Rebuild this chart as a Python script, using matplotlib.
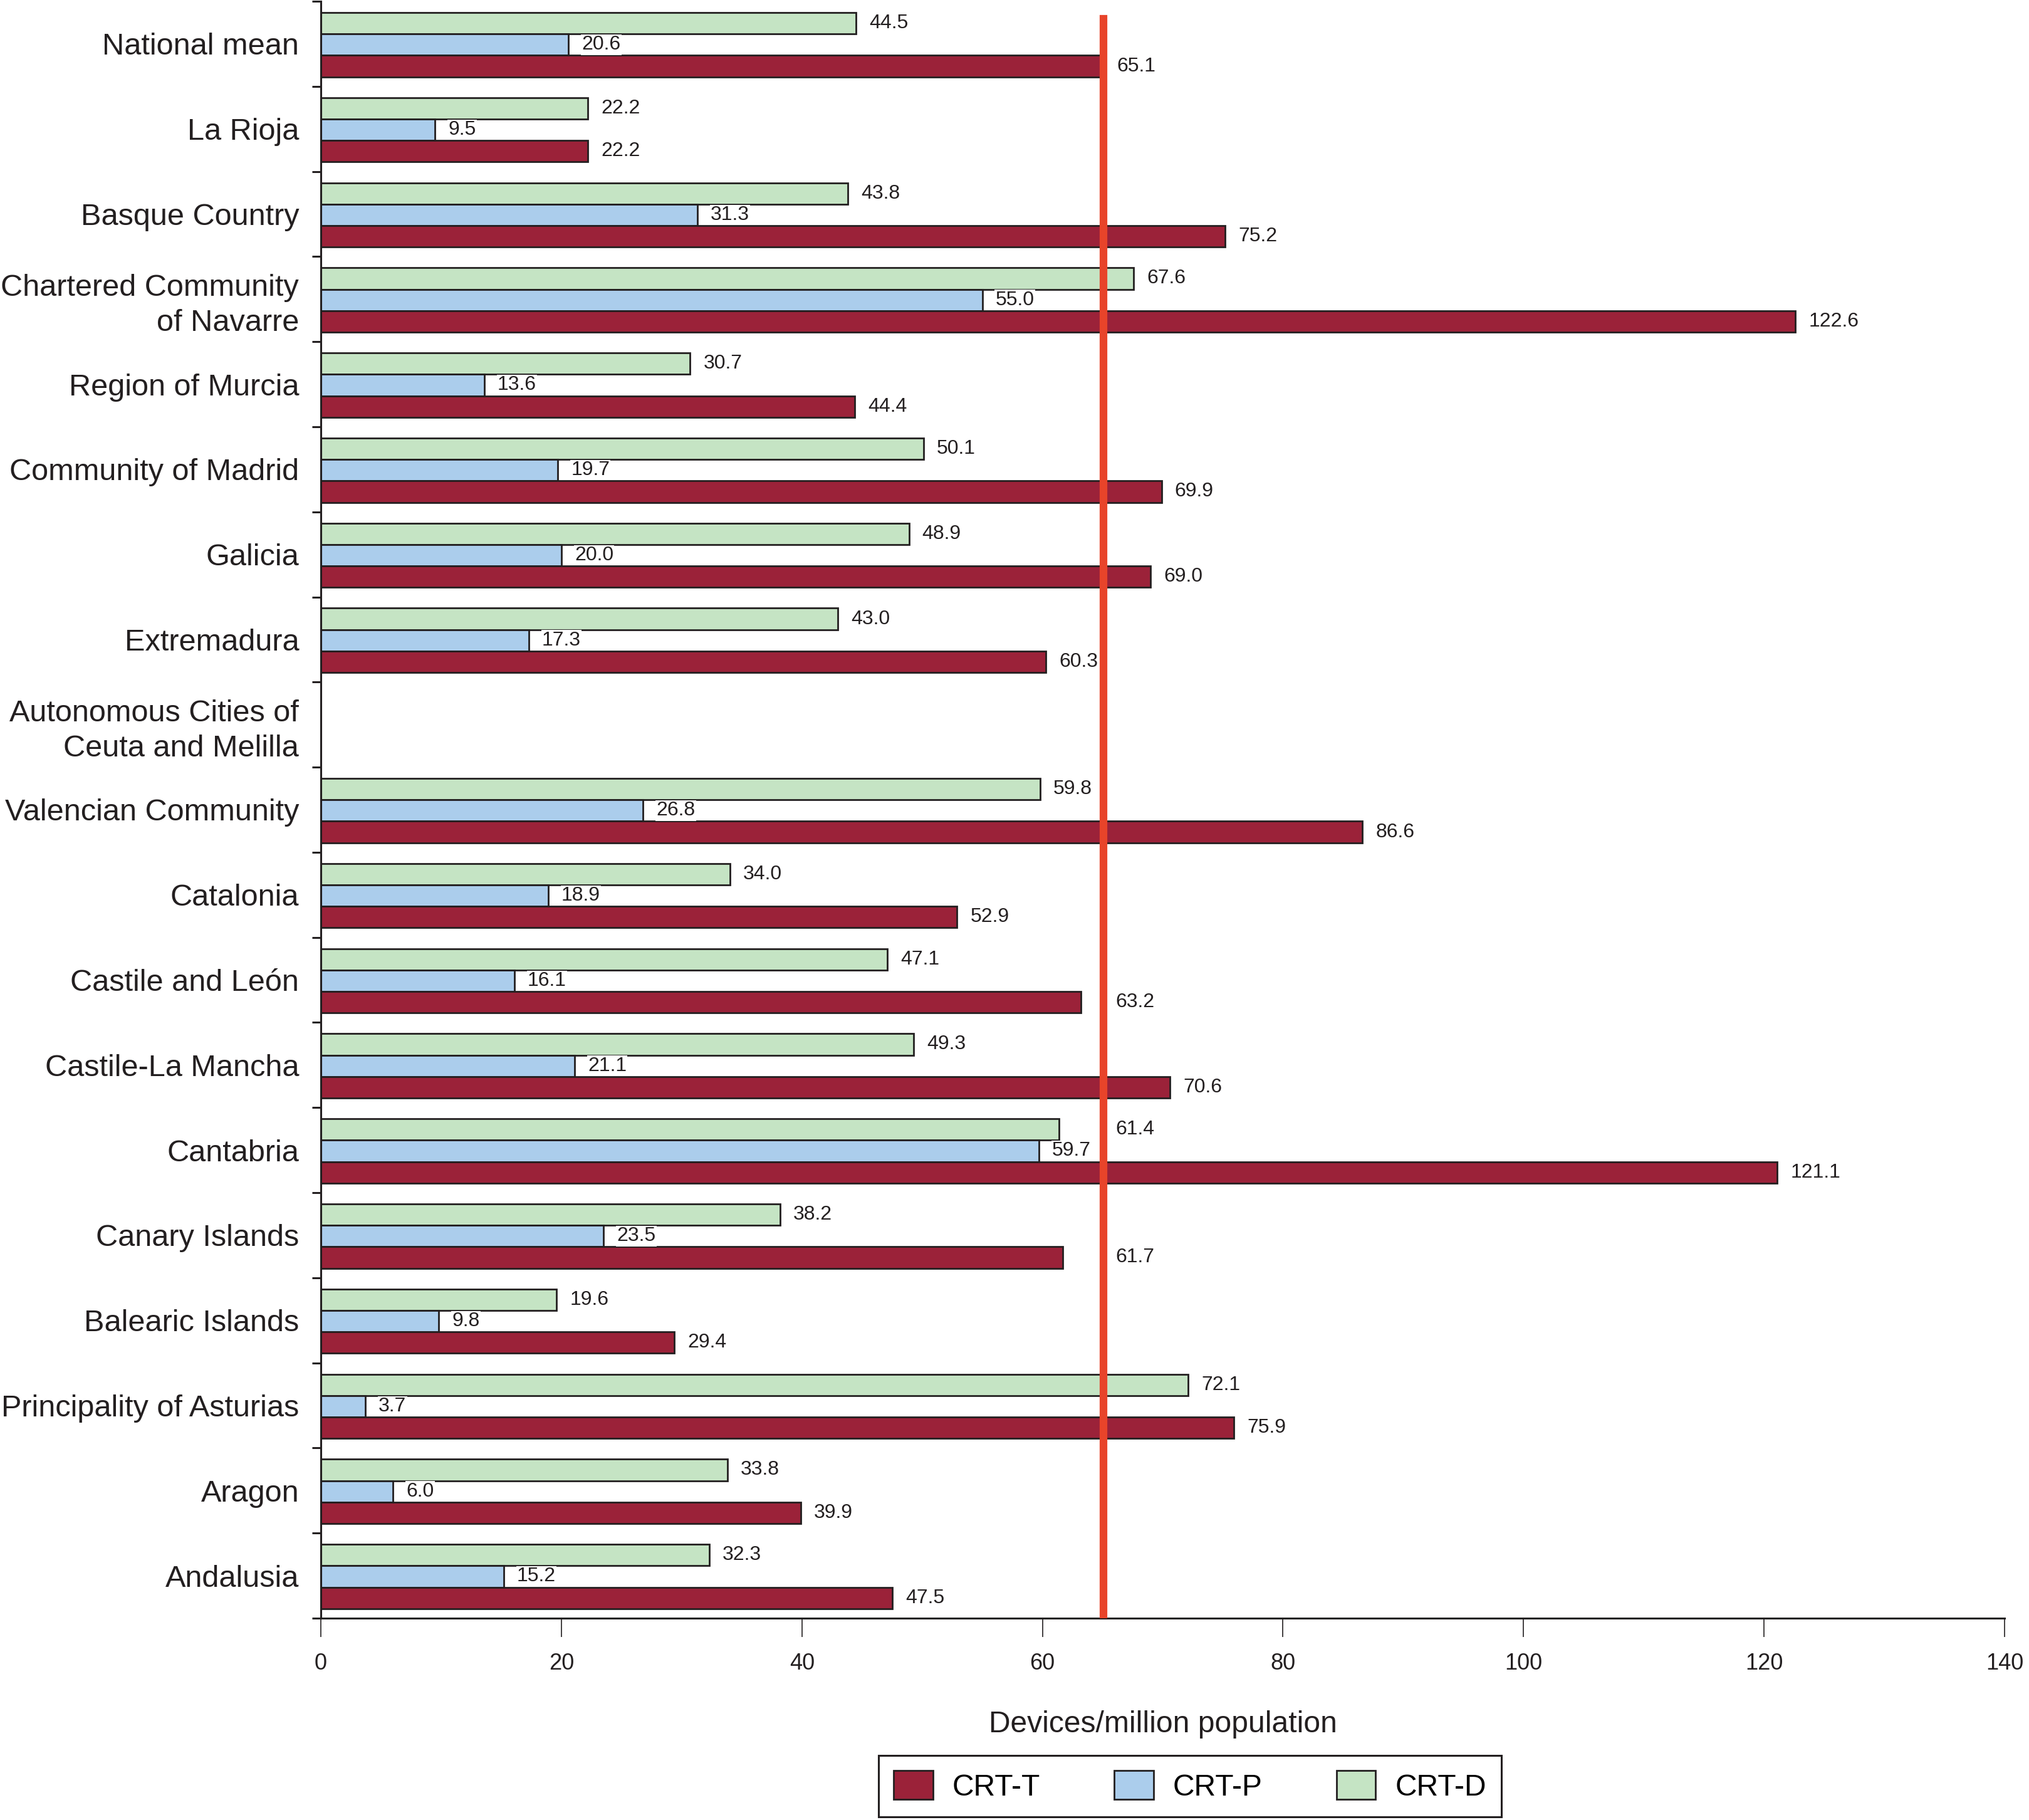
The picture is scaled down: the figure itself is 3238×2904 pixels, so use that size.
import matplotlib
matplotlib.use('Agg')
import matplotlib.pyplot as plt
from matplotlib.patches import Patch
import numpy as np

plt.rcParams['font.family'] = ['Liberation Sans', 'Arial', 'DejaVu Sans']

# Regions from top to bottom, values in devices per million population
regions = ["National mean", "La Rioja", "Basque Country",
           "Chartered Community\nof Navarre", "Region of Murcia",
           "Community of Madrid", "Galicia", "Extremadura",
           "Autonomous Cities of\nCeuta and Melilla", "Valencian Community",
           "Catalonia", "Castile and León", "Castile-La Mancha", "Cantabria",
           "Canary Islands", "Balearic Islands", "Principality of Asturias",
           "Aragon", "Andalusia"]
crt_d = [44.5, 22.2, 43.8, 67.6, 30.7, 50.1, 48.9, 43.0, None, 59.8,
         34.0, 47.1, 49.3, 61.4, 38.2, 19.6, 72.1, 33.8, 32.3]
crt_p = [20.6, 9.5, 31.3, 55.0, 13.6, 19.7, 20.0, 17.3, None, 26.8,
         18.9, 16.1, 21.1, 59.7, 23.5, 9.8, 3.7, 6.0, 15.2]
crt_t = [65.1, 22.2, 75.2, 122.6, 44.4, 69.9, 69.0, 60.3, None, 86.6,
         52.9, 63.2, 70.6, 121.1, 61.7, 29.4, 75.9, 39.9, 47.5]
series_names = ["CRT-T", "CRT-P", "CRT-D"]
x_ticks = [0, 20, 40, 60, 80, 100, 120, 140]

RED = '#9B2239'
BLUE = '#ABCDEC'
GREEN = '#C5E4C4'
DARK = '#231F20'
LINE = '#E8442A'

fig = plt.figure(figsize=(16.19, 14.52), dpi=200)
ax = fig.add_axes([0.1581, 0.1109, 0.988 - 0.1581, 0.9993 - 0.1109])

n = len(regions)
ypos = n - 1 - np.arange(n)
h = 0.252
mean_val = crt_t[0]

# text width estimate (data units) used to keep labels off the mean line
def label_width(s):
    return (sum(0.556 if c.isdigit() else 0.278 for c in s)) * 1.667

def label_x(v, s):
    L = mean_val
    w = label_width(s)
    start = v + 1.1
    if start + w > L - 0.45 and start < L + 0.8:
        alt = v + 0.3
        if alt + w <= L - 0.45:
            return alt
        return L + 1.0
    return start

for vals, offset, color in [(crt_d, h, GREEN), (crt_p, 0.0, BLUE), (crt_t, -h, RED)]:
    idx = [i for i, v in enumerate(vals) if v is not None]
    yy = [ypos[i] + offset - 0.01 for i in idx]
    ww = [vals[i] for i in idx]
    ax.barh(yy, ww, height=h, color=color, edgecolor=DARK, linewidth=1.0, zorder=2)
    for y, v in zip(yy, ww):
        s = f"{v:.1f}"
        ax.text(label_x(v, s), y, s, fontsize=11.5, color=DARK, va='center', ha='left',
                zorder=5, bbox=dict(facecolor='white', edgecolor='none', pad=0.5))

ax.axvline(mean_val, ymin=0, ymax=0.989, color=LINE, linewidth=4.4, zorder=4)

ax.set_xlim(0, 140)
ax.set_ylim(-0.5, n - 0.5)
ax.set_xticks(x_ticks)
ax.set_xticklabels([str(t) for t in x_ticks], fontsize=13, color=DARK)
ax.set_yticks(ypos)
ax.set_yticklabels(regions, fontsize=17.5, color=DARK, linespacing=1.3)
ax.set_yticks(np.arange(-0.5, n, 1.0), minor=True)
ax.tick_params(axis='y', which='major', length=0, pad=12.5)
ax.tick_params(axis='y', which='minor', length=5, width=1.1, direction='out', color=DARK)
ax.tick_params(axis='x', which='major', length=10.8, width=0.6, direction='out', color=DARK, pad=9)

for side in ['top', 'right']:
    ax.spines[side].set_visible(False)
for side in ['left', 'bottom']:
    ax.spines[side].set_color(DARK)
    ax.spines[side].set_linewidth(1.1)

ax.set_xlabel("Devices/million population", fontsize=17.3, color=DARK)
ax.xaxis.set_label_coords(0.5, -0.0659)
ax.xaxis.label.set_va('center')

handles = [Patch(facecolor=RED, edgecolor=DARK, linewidth=1.0),
           Patch(facecolor=BLUE, edgecolor=DARK, linewidth=1.0),
           Patch(facecolor=GREEN, edgecolor=DARK, linewidth=1.0)]
leg = fig.legend(handles, series_names, loc='center', bbox_to_anchor=(0.5865, 0.0186),
                 ncol=3, fontsize=17.3, frameon=True, fancybox=False, framealpha=1,
                 handlelength=1.3, handleheight=1.1, handletextpad=0.65,
                 columnspacing=2.45, borderpad=0.5)
leg.get_frame().set_edgecolor(DARK)
leg.get_frame().set_linewidth(1.1)

fig.savefig('out.png', dpi=200)
plt.close(fig)
